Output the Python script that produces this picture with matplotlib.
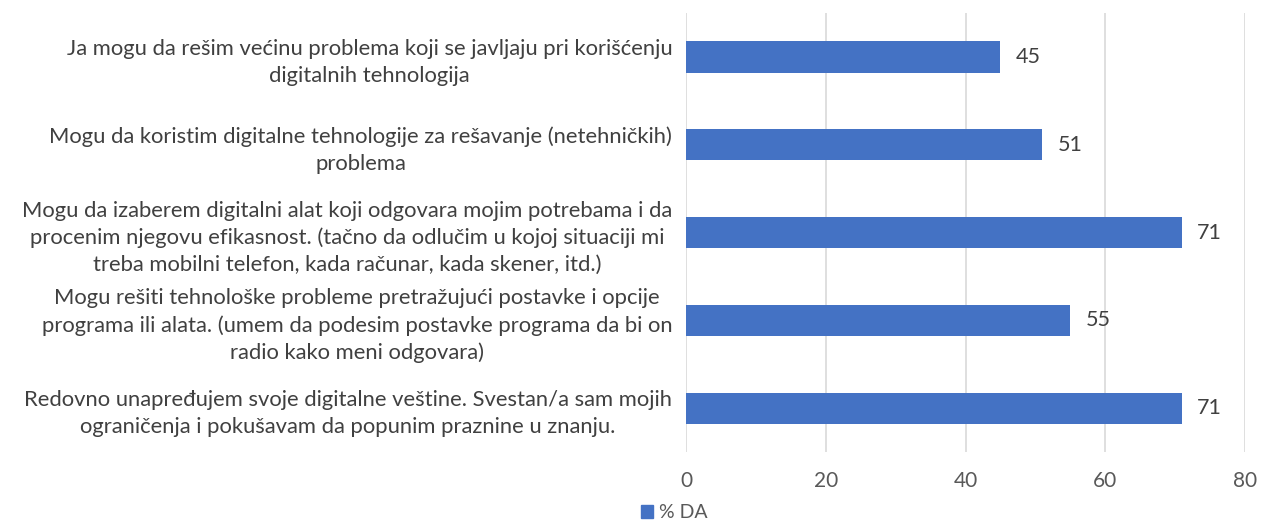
import numpy as np
import matplotlib.pyplot as plt
from matplotlib.patches import Patch

# ── Datos ────────────────────────────────────────────────────────────────────

categorias = [
    'Ja mogu da rešim većinu problema koji se javljaju pri korišćenju\n'
    'digitalnih tehnologija',
    'Mogu da koristim digitalne tehnologije za rešavanje (netehničkih)\n'
    'problema',
    'Mogu da izaberem digitalni alat koji odgovara mojim potrebama i da\n'
    'procenim njegovu efikasnost. (tačno da odlučim u kojoj situaciji mi\n'
    'treba mobilni telefon, kada računar, kada skener, itd.)',
    'Mogu rešiti tehnološke probleme pretražujući postavke i opcije\n'
    'programa ili alata. (umem da podesim postavke programa da bi on\n'
    'radio kako meni odgovara)',
    'Redovno unapređujem svoje digitalne veštine. Svestan/a sam mojih\n'
    'ograničenja i pokušavam da popunim praznine u znanju.',
]
valores = [45, 51, 71, 55, 71]
serie = '% DA'
x_ticks = [0, 20, 40, 60, 80]

AZUL = '#4472C4'
TEXTO = '#404040'
GRIS = '#595959'

plt.rcParams['font.family'] = ['Lato', 'DejaVu Sans']

fig = plt.figure(figsize=(12.63, 5.22), dpi=100)
ax = fig.add_axes([0.5432, 0.134, 0.4425, 0.841])

y = np.arange(len(categorias))
bars = ax.barh(y, valores, height=0.355, color=AZUL, zorder=3)

for bar, val in zip(bars, valores):
    ax.annotate(f'{val}', (bar.get_width(), bar.get_y() + bar.get_height() / 2),
                textcoords='offset points', xytext=(11, 0),
                ha='left', va='center', fontsize=15.5, color=TEXTO)

ax.set_ylim(len(categorias) - 0.5, -0.5)
ax.set_xlim(0, 80)
ax.set_xticks(x_ticks)
ax.set_yticks(y)
ax.set_yticklabels(categorias, fontsize=15.8, color=TEXTO,
                   multialignment='center', linespacing=1.42)
ax.tick_params(axis='x', length=0, pad=14, labelsize=15, labelcolor=GRIS)
ax.tick_params(axis='y', length=0, pad=10)

ax.grid(True, axis='x', color='#d9d9d9', linewidth=1.2, zorder=0)
for s in ['top', 'right', 'bottom', 'left']:
    ax.spines[s].set_visible(False)

fig.legend(handles=[Patch(color=AZUL, label=serie)],
           loc='lower left', bbox_to_anchor=(0.494, -0.032),
           frameon=False, fontsize=14, handlelength=0.6, handleheight=0.6,
           handletextpad=0.3, labelcolor=GRIS)

plt.savefig('out.png', dpi=100)
